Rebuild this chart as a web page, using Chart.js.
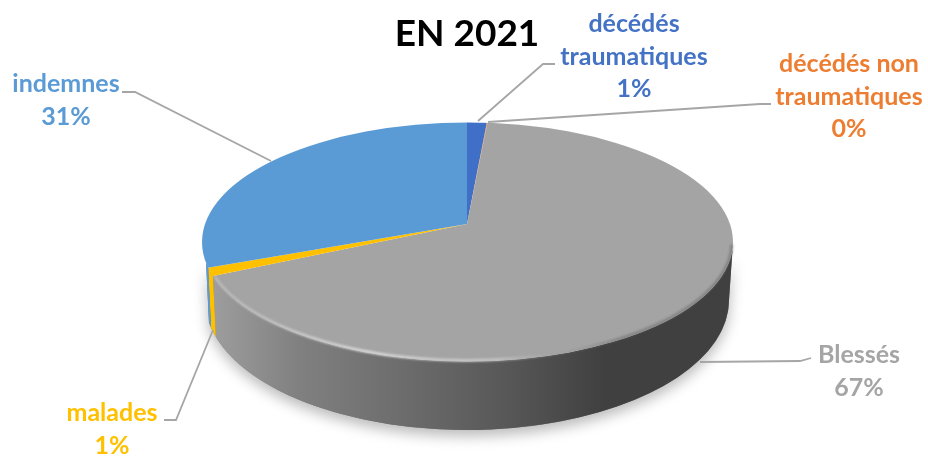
<!DOCTYPE html>
<html>
<head>
<meta charset="utf-8">
<style>
  html, body { margin: 0; padding: 0; background: #fff; }
  canvas { display: block; }
</style>
<script src="https://cdn.jsdelivr.net/npm/chart.js@4/dist/chart.umd.min.js"></script>
</head>
<body>
<canvas id="myChart" width="928" height="458"></canvas>
<script>
const categories = ["décédés traumatiques", "décédés non traumatiques", "Blessés", "malades", "indemnes"];
const values = [1.4, 0.04, 66.76, 1.1, 30.7];
const colors = ["#3F6FC6", "#ED7D31", "#A4A4A4", "#FFC000", "#5B9BD5"];
const labelColors = ["#4472C4", "#ED7D31", "#A5A5A5", "#FFC000", "#5B9BD5"];

// label layout, one entry per slice
const labelLines = [["décédés", "traumatiques"], ["décédés non", "traumatiques"], ["Blessés"], ["malades"], ["indemnes"]];
const labelAnchors = [[634, 24], [849, 64], [859, 355], [112, 413], [66, 84]];
const leaders = [
  [[478, 121], [543, 64], [555, 64]],
  [[488, 122], [760, 104], [771, 104]],
  [[700, 362], [800, 361], [811, 358]],
  [[213, 330], [176, 420], [164, 420]],
  [[271, 161], [135, 92], [122, 92]],
];

// the "3D" look: tilted top face, and a lower ellipse for the wall
const apex = { x: 467, y: 224 };
const top_ = { x: 467.5, y: 242, rx: 265.5, ry: 119.5 };
const bottom = { x: 467, y: 300, rx: 262, ry: 130 };
const tilt = 0.45;
const faceRadius = 320;
const wallLimit = 170 * Math.PI / 180;

function rimAngle(a) {
  // where a slice edge from the apex meets the top ellipse
  const dx = Math.cos(a), dy = Math.sin(a) * tilt;
  const ox = apex.x - top_.x, oy = apex.y - top_.y;
  const A = dx * dx / (top_.rx * top_.rx) + dy * dy / (top_.ry * top_.ry);
  const B = 2 * (ox * dx / (top_.rx * top_.rx) + oy * dy / (top_.ry * top_.ry));
  const C = ox * ox / (top_.rx * top_.rx) + oy * oy / (top_.ry * top_.ry) - 1;
  const s = (-B + Math.sqrt(B * B - 4 * A * C)) / (2 * A);
  return Math.atan2((oy + s * dy) / top_.ry, (ox + s * dx) / top_.rx);
}

function wallPath(ctx, t0, t1) {
  ctx.beginPath();
  ctx.ellipse(top_.x, top_.y, top_.rx, top_.ry, 0, t0, t1);
  ctx.ellipse(bottom.x, bottom.y, bottom.rx, bottom.ry, 0, t1, t0, true);
  ctx.closePath();
}

const pie3d = {
  id: "pie3d",
  beforeDatasetsDraw(chart) {
    const ctx = chart.ctx;
    const arcs = chart.getDatasetMeta(0).data;

    // soft shadow under the wall
    ctx.save();
    ctx.shadowColor = "rgba(0,0,0,0.28)";
    ctx.shadowBlur = 14;
    ctx.shadowOffsetY = 6;
    ctx.fillStyle = "#777";
    wallPath(ctx, 0, wallLimit);
    ctx.fill();
    ctx.restore();

    const grad = ctx.createLinearGradient(205, 0, 730, 0);
    grad.addColorStop(0, "#A0A0A0");
    grad.addColorStop(0.18, "#808080");
    grad.addColorStop(0.38, "#6C6C6C");
    grad.addColorStop(0.57, "#585858");
    grad.addColorStop(0.76, "#404040");
    grad.addColorStop(1, "#404040");

    arcs.forEach((arc, i) => {
      let t0 = rimAngle(arc.startAngle);
      let t1 = rimAngle(arc.endAngle);
      if (t1 < t0) t1 += Math.PI * 2;
      if (t0 < 0 && t1 <= 0) return;
      t0 = Math.max(t0, 0);
      t1 = Math.min(t1, wallLimit);
      if (t1 <= t0) return;
      ctx.fillStyle = i === 2 ? grad : colors[i];
      wallPath(ctx, t0, t1);
      ctx.fill();
    });

    // squash the library's round pie into the tilted face
    const arc = arcs[0];
    const k = faceRadius / arc.outerRadius;
    ctx.save();
    ctx.beginPath();
    ctx.ellipse(top_.x, top_.y, top_.rx, top_.ry, 0, 0, Math.PI * 2);
    ctx.clip();
    ctx.translate(apex.x, apex.y);
    ctx.scale(k, k * tilt);
    ctx.translate(-arc.x, -arc.y);
  },
  afterDatasetsDraw(chart) {
    const ctx = chart.ctx;
    ctx.restore();

    // bevel on the front edge: bright on the left, soft dark on the right
    const bevel = ctx.createLinearGradient(212, 0, 733, 0);
    bevel.addColorStop(0, "rgba(205,205,205,0.5)");
    bevel.addColorStop(0.3, "rgba(225,225,225,0.85)");
    bevel.addColorStop(0.55, "rgba(215,215,215,0.6)");
    bevel.addColorStop(0.68, "rgba(150,150,150,0.2)");
    bevel.addColorStop(0.78, "rgba(90,90,90,0.45)");
    bevel.addColorStop(1, "rgba(90,90,90,0.45)");
    ctx.save();
    ctx.filter = "blur(1.2px)";
    ctx.beginPath();
    ctx.ellipse(top_.x, top_.y, top_.rx - 1, top_.ry - 1, 0, 0.02, Math.PI - 0.3);
    ctx.strokeStyle = bevel;
    ctx.lineWidth = 3;
    ctx.stroke();
    ctx.restore();

    // leader lines and labels
    const total = values.reduce((a, b) => a + b, 0);
    ctx.save();
    ctx.strokeStyle = "#A6A6A6";
    ctx.lineWidth = 1.8;
    leaders.forEach((pts) => {
      ctx.beginPath();
      pts.forEach((p, i) => (i ? ctx.lineTo(p[0], p[1]) : ctx.moveTo(p[0], p[1])));
      ctx.stroke();
    });
    ctx.font = "bold 25px Lato";
    ctx.textAlign = "center";
    ctx.textBaseline = "middle";
    categories.forEach((name, i) => {
      const lines = labelLines[i].concat(Math.round(values[i] / total * 100) + "%");
      ctx.fillStyle = labelColors[i];
      lines.forEach((line, n) => ctx.fillText(line, labelAnchors[i][0], labelAnchors[i][1] + n * 32.5));
    });
    ctx.restore();
  },
};

new Chart(document.getElementById("myChart"), {
  type: "pie",
  data: {
    labels: categories,
    datasets: [{ data: values, backgroundColor: colors, borderWidth: 0 }],
  },
  options: {
    responsive: false,
    animation: false,
    layout: { padding: { left: 6 } },
    plugins: {
      legend: { display: false },
      tooltip: { enabled: false },
      title: {
        display: true,
        text: "EN 2021",
        color: "#000",
        font: { family: "Lato", size: 37, weight: "bold" },
        padding: { top: 12, bottom: 6 },
      },
    },
  },
  plugins: [pie3d],
});
</script>
</body>
</html>
